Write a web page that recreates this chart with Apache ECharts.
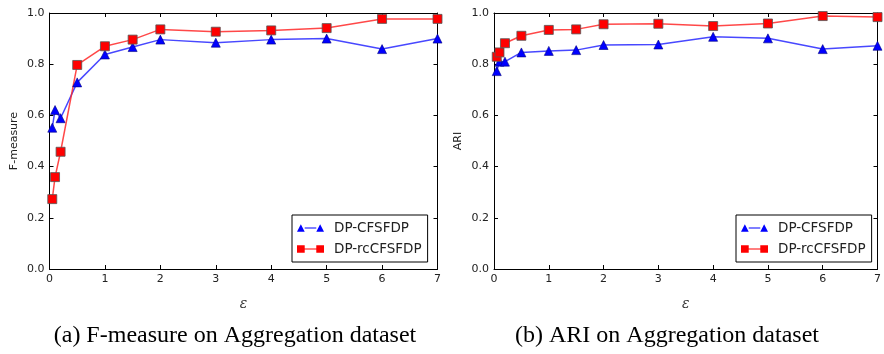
<!DOCTYPE html>
<html>
<head>
<meta charset="utf-8">
<script src="https://cdn.jsdelivr.net/npm/echarts@6/dist/echarts.min.js"></script>
<style>
  html, body {margin: 0; padding: 0; background: #fff;}
  #main {width: 884px; height: 354px;}
</style>
</head>
<body>
<div id="main"></div>
<script>
// epsilon values on the x axis
const eps = [0.05, 0.1, 0.2, 0.5, 1, 1.5, 2, 3, 4, 5, 6, 7];
// (a) F-measure
const fCFSFDP = [0.552, 0.621, 0.589, 0.729, 0.838, 0.867, 0.896, 0.884, 0.896, 0.900, 0.859, 0.900];
const fRcCFSFDP = [0.273, 0.359, 0.458, 0.797, 0.870, 0.896, 0.936, 0.927, 0.932, 0.941, 0.977, 0.977];
// (b) ARI
const ariCFSFDP = [0.773, 0.810, 0.810, 0.846, 0.852, 0.855, 0.875, 0.877, 0.907, 0.901, 0.859, 0.872];
const ariRcCFSFDP = [0.829, 0.846, 0.882, 0.911, 0.934, 0.936, 0.956, 0.958, 0.949, 0.959, 0.988, 0.984];
const xTicks = [0, 1, 2, 3, 4, 5, 6, 7];
const yTicks = [0.0, 0.2, 0.4, 0.6, 0.8, 1.0];

const font = 'DejaVu Sans';
const pair = ys => eps.map((x, i) => [x, ys[i]]);

const chart = echarts.init(document.getElementById('main'));

const grids = [
  {left: 49.5, right: 446.5, top: 13, bottom: 85},
  {left: 494, right: 3.5, top: 13, bottom: 85}
];

const xAxisBase = idx => ({
  gridIndex: idx,
  type: 'value',
  min: xTicks[0],
  max: xTicks[xTicks.length - 1],
  interval: 1,
  axisLine: {show: true, onZero: false, lineStyle: {color: '#000', width: 1}},
  axisTick: {show: true, inside: true, length: 4, lineStyle: {color: '#000'}},
  splitLine: {show: false}
});
const yAxisBase = idx => ({
  gridIndex: idx,
  type: 'value',
  min: yTicks[0],
  max: yTicks[yTicks.length - 1],
  interval: 0.2,
  axisLine: {show: true, onZero: false, lineStyle: {color: '#000', width: 1}},
  axisTick: {show: true, inside: true, length: 4, lineStyle: {color: '#000'}},
  splitLine: {show: false}
});

const xAxes = [];
const yAxes = [];
[0, 1].forEach(i => {
  xAxes.push({
    ...xAxisBase(i),
    position: 'bottom',
    name: 'ε',
    nameLocation: 'middle',
    nameGap: 28,
    nameTextStyle: {fontFamily: 'DejaVu Serif', fontStyle: 'italic', fontSize: 14, color: '#333'},
    axisLabel: {fontFamily: font, fontSize: 11, color: '#222', margin: 5}
  });
  xAxes.push({...xAxisBase(i), position: 'top', axisLabel: {show: false}});
  yAxes.push({
    ...yAxisBase(i),
    position: 'left',
    name: i === 0 ? 'F-measure' : 'ARI',
    nameLocation: 'middle',
    nameGap: 30,
    nameTextStyle: {fontFamily: font, fontSize: 11, color: '#222'},
    axisLabel: {fontFamily: font, fontSize: 11, color: '#222', margin: 5, formatter: v => v.toFixed(1)}
  });
  yAxes.push({...yAxisBase(i), position: 'right', axisLabel: {show: false}});
});

const blue = (data, i) => ({
  name: 'DP-CFSFDP',
  type: 'line',
  xAxisIndex: i * 2,
  yAxisIndex: i * 2,
  data: pair(data),
  symbol: 'triangle',
  symbolSize: 9,
  itemStyle: {color: '#0000ff', borderColor: '#000080', borderWidth: 0.6},
  lineStyle: {color: 'rgba(40,40,255,0.85)', width: 1.5}
});
const red = (data, i) => ({
  name: 'DP-rcCFSFDP',
  type: 'line',
  xAxisIndex: i * 2,
  yAxisIndex: i * 2,
  data: pair(data),
  symbol: 'rect',
  symbolSize: 9,
  itemStyle: {color: '#ff0000', borderColor: '#555', borderWidth: 0.8},
  lineStyle: {color: 'rgba(255,40,40,0.85)', width: 1.5}
});

// matplotlib-style legend handles: marker, line, marker
const triIcon = 'path://M0,8L4,0L8,8Z M8,3.5H20V4.5H8Z M20,8L24,0L28,8Z';
const sqIcon = 'path://M0,0H8V8H0Z M8,3.5H20V4.5H8Z M20,0H28V8H20Z';

const legendBase = {
  orient: 'vertical',
  data: [
    {name: 'DP-CFSFDP', icon: triIcon, itemStyle: {color: '#0000ff', borderWidth: 0}},
    {name: 'DP-rcCFSFDP', icon: sqIcon, itemStyle: {color: '#ff0000', borderWidth: 0}}
  ],
  borderColor: '#000',
  borderWidth: 1,
  padding: [6, 6, 6, 5],
  itemGap: 7,
  itemWidth: 27,
  itemHeight: 8,
  textStyle: {fontFamily: font, fontSize: 13.5, color: '#222', padding: [0, 0, 0, 5]},
  backgroundColor: '#fff'
};

chart.setOption({
  animation: false,
  grid: grids,
  xAxis: xAxes,
  yAxis: yAxes,
  legend: [
    {...legendBase, left: 292, top: 215},
    {...legendBase, left: 736, top: 215}
  ],
  series: [
    blue(fCFSFDP, 0),
    red(fRcCFSFDP, 0),
    blue(ariCFSFDP, 1),
    red(ariRcCFSFDP, 1)
  ],
  graphic: [
    {type: 'text', x: 235, y: 336, style: {text: '(a) F-measure on Aggregation dataset', font: '24px "Liberation Serif"', fill: '#000', textAlign: 'center', textVerticalAlign: 'middle'}},
    {type: 'text', x: 667, y: 336, style: {text: '(b) ARI on Aggregation dataset', font: '24px "Liberation Serif"', fill: '#000', textAlign: 'center', textVerticalAlign: 'middle'}}
  ]
});
</script>
</body>
</html>
